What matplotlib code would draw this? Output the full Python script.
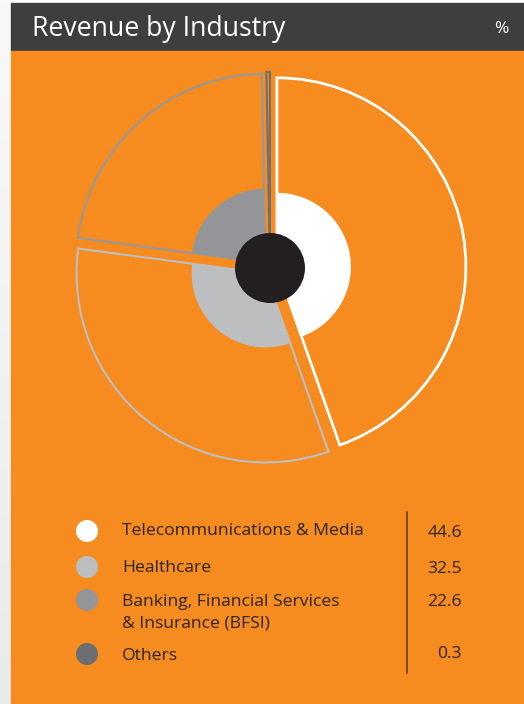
import matplotlib
matplotlib.use("Agg")
import matplotlib.pyplot as plt
from matplotlib.patches import Rectangle, Circle
import numpy as np

# ---- data ----
title = "Revenue by Industry"
unit = "%"
categories = ["Telecommunications & Media", "Healthcare",
              "Banking, Financial Services\n& Insurance (BFSI)", "Others"]
shares = [44.6, 32.5, 22.6, 0.3]

# ---- style ----
ORANGE = "#F68B1F"
HEADER = "#3E3E3E"
DARK = "#2A2522"
fills = ["#FFFFFF", "#BCBEC0", "#939598", "#6D6E71"]
edges = ["#FFFFFF", "#BDBFC1", "#97989B", "#6F7073"]
FONT = ["Open Sans", "DejaVu Sans"]

W, H = 524, 704
fig = plt.figure(figsize=(W / 100, H / 100), dpi=100)

# pixel-space canvas for the panel, header and legend
bg = fig.add_axes([0, 0, 1, 1])
bg.set_xlim(0, W)
bg.set_ylim(H, 0)
bg.axis("off")

# page margin strip with a faint vertical gradient
grad = np.linspace(0, 1, 256).reshape(-1, 1)
bg.imshow(grad, extent=(0, 11, H, 0), aspect="auto",
          cmap=matplotlib.colors.LinearSegmentedColormap.from_list(
              "m", ["#F9F9F9", "#E8EAEC"]), zorder=0)
bg.add_patch(Rectangle((11, 0), W - 11, 3, color="#FFFFFF", zorder=1))
bg.add_patch(Rectangle((11, 3), W - 11, 48, color=HEADER, zorder=1))
bg.add_patch(Rectangle((11, 51), W - 11, H - 51, color=ORANGE, zorder=1))
bg.set_xlim(0, W)
bg.set_ylim(H, 0)

bg.text(32, 36, title, color="white", fontsize=19.2, family=FONT,
        ha="left", va="baseline", zorder=3)
bg.text(501, 33, unit, color="white", fontsize=12.5, family=FONT,
        ha="center", va="baseline", zorder=3)

# ---- legend table ----
row_y = [531, 567, 600, 654]
baselines = [535, 572, 606, 660]
val_baselines = [537, 573, 606, 658]
line_gap = 21
for cat, val, fc, yc, yb, yv in zip(categories, shares, fills, row_y,
                                    baselines, val_baselines):
    bg.add_patch(Circle((87, yc), 11, facecolor=fc, edgecolor="none", zorder=3))
    for i, line in enumerate(cat.split("\n")):
        bg.text(122, yb + i * line_gap, line, color=DARK, fontsize=12.6,
                family=FONT, ha="left", va="baseline", zorder=3)
    bg.text(462, yv, f"{val:.1f}", color=DARK, fontsize=12.6, family=FONT,
            ha="right", va="baseline", zorder=3)
bg.plot([407, 407], [512, 673], color="#5A3A1C", lw=1.1, zorder=3)

# ---- pie: outlined outer wedges with solid inner wedges ----
cx, cy, half = 270, 268, 220
pie_ax = fig.add_axes([(cx - half) / W, 1 - (cy + half) / H,
                       2 * half / W, 2 * half / H])
pie_ax.set_zorder(5)
pie_ax.patch.set_visible(False)

explode = [7, 7, 7, 7]
outer, _ = pie_ax.pie(shares, radius=189, startangle=90, counterclock=False,
                      explode=explode, colors=[ORANGE] * len(shares),
                      wedgeprops=dict(linewidth=1.5))
for w, ec in zip(outer, edges):
    w.set_edgecolor(ec)
outer[0].set_linewidth(2.0)

pie_ax.pie(shares, radius=74, startangle=90, counterclock=False,
           explode=explode, colors=fills, wedgeprops=dict(linewidth=0))
pie_ax.add_patch(Circle((0, 0), 35, facecolor="#231F20", edgecolor="none",
                        zorder=10))
pie_ax.set_xlim(-half, half)
pie_ax.set_ylim(-half, half)
pie_ax.set_aspect("equal")
pie_ax.axis("off")

fig.savefig("out.png", dpi=100)
